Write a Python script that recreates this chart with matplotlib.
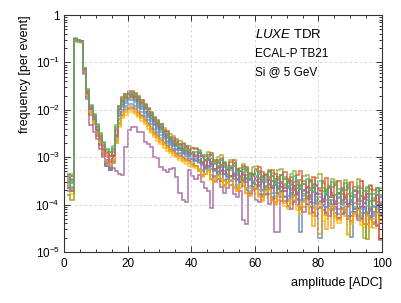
import numpy as np
import matplotlib
matplotlib.use("Agg")
import matplotlib.pyplot as plt
from matplotlib.ticker import FixedLocator, FixedFormatter, MultipleLocator

plt.rcParams['font.family'] = ['Liberation Sans', 'DejaVu Sans']
plt.rcParams['mathtext.fontset'] = 'custom'
plt.rcParams['mathtext.rm'] = 'Liberation Sans'
plt.rcParams['mathtext.it'] = 'Liberation Sans:italic'

# ---- data: log10(frequency) x 100, bins [k, k+1) for k = 1..99 ----
bin_edges = list(range(1, 101))

s_blue = [-372, -345, -52, -54, -57, -117, -168, -203, -225, -248,
          -268, -292, -318, -325, -305, -262, -203, -184, -175, -170,
          -170, -174, -181, -188, -196, -206, -214, -223, -231, -238,
          -252, -254, -265, -270, -272, -281, -284, -286, -292, -290,
          -295, -306, -312, -300, -304, -318, -324, -310, -316, -330,
          -335, -322, -318, -338, -345, -332, -326, -348, -355, -340,
          -332, -350, -362, -345, -340, -358, -368, -352, -346, -364,
          -376, -360, -352, -458, -370, -382, -365, -358, -375, -470,
          -388, -372, -362, -380, -394, -376, -368, -385, -398, -468,
          -380, -372, -392, -405, -385, -378, -440, -395, -385]
s_orange = [-358, -368, -52, -54, -57, -117, -166, -202, -223, -246,
            -266, -287, -305, -315, -300, -262, -222, -205, -197, -192,
            -192, -196, -202, -210, -218, -227, -236, -245, -252, -259,
            -268, -272, -281, -284, -291, -294, -300, -302, -306, -310,
            -318, -325, -330, -316, -322, -338, -345, -330, -336, -350,
            -355, -342, -338, -358, -365, -350, -346, -366, -372, -358,
            -352, -372, -380, -365, -360, -382, -390, -372, -366, -388,
            -398, -380, -374, -395, -405, -388, -382, -402, -410, -462,
            -395, -390, -410, -450, -400, -396, -418, -425, -405, -400,
            -420, -428, -410, -405, -425, -432, -415, -410, -430]
s_green = [-350, -335, -49, -52, -54, -112, -158, -192, -210, -232,
           -250, -270, -284, -290, -276, -232, -193, -176, -167, -162,
           -163, -166, -174, -180, -189, -198, -206, -217, -223, -231,
           -238, -247, -252, -256, -265, -266, -270, -277, -276, -281,
           -280, -292, -300, -295, -290, -302, -309, -300, -296, -312,
           -318, -306, -314, -328, -322, -315, -332, -336, -320, -318,
           -330, -345, -340, -326, -333, -352, -328, -324, -342, -348,
           -335, -330, -356, -362, -340, -338, -350, -366, -344, -336,
           -352, -372, -360, -345, -350, -368, -378, -348, -355, -375,
           -362, -345, -350, -470, -365, -358, -392, -372, -366]
s_red = [-360, -340, -50, -54, -55, -114, -163, -198, -218, -240,
         -258, -280, -296, -305, -295, -250, -198, -179, -171, -166,
         -166, -170, -177, -184, -192, -201, -211, -219, -226, -234,
         -245, -250, -262, -263, -270, -272, -280, -279, -285, -288,
         -300, -292, -296, -308, -302, -295, -314, -320, -306, -312,
         -326, -318, -312, -330, -340, -324, -322, -346, -338, -330,
         -344, -352, -336, -330, -350, -358, -342, -338, -360, -350,
         -342, -366, -358, -348, -370, -362, -350, -356, -378, -366,
         -354, -372, -385, -362, -358, -376, -392, -370, -362, -382,
         -396, -375, -366, -388, -372, -368, -402, -380, -475]
s_violet = [-335, -372, -52, -54, -56, -119, -170, -206, -228, -252,
            -270, -292, -310, -320, -308, -266, -210, -190, -181, -176,
            -176, -180, -187, -194, -202, -211, -220, -229, -236, -243,
            -255, -260, -268, -275, -277, -285, -286, -292, -296, -300,
            -308, -300, -312, -320, -306, -315, -328, -322, -316, -335,
            -340, -326, -333, -348, -352, -336, -344, -360, -350, -342,
            -358, -370, -352, -348, -366, -375, -360, -354, -372, -382,
            -365, -360, -380, -390, -372, -366, -385, -396, -378, -372,
            -392, -405, -385, -380, -398, -410, -390, -384, -402, -395,
            -385, -408, -418, -396, -390, -412, -425, -400, -395]
s_brown = [-365, -340, -54, -55, -58, -120, -172, -210, -230, -255,
           -275, -296, -315, -328, -312, -270, -228, -210, -201, -196,
           -196, -200, -206, -214, -222, -231, -240, -249, -256, -263,
           -270, -276, -285, -286, -294, -297, -302, -306, -308, -315,
           -318, -330, -338, -322, -328, -345, -340, -332, -350, -358,
           -345, -340, -362, -368, -352, -348, -370, -378, -362, -358,
           -378, -385, -368, -364, -388, -395, -378, -372, -392, -402,
           -385, -380, -400, -410, -392, -386, -406, -415, -398, -392,
           -412, -422, -404, -398, -418, -428, -410, -404, -425, -435,
           -415, -410, -430, -440, -420, -414, -436, -442, -425]
s_lightblue = [-350, -362, -52, -55, -57, -116, -164, -199, -220, -243,
               -262, -285, -306, -318, -296, -256, -220, -200, -192, -187,
               -187, -191, -197, -205, -213, -222, -231, -240, -247, -254,
               -262, -268, -275, -282, -284, -292, -293, -298, -302, -305,
               -308, -312, -328, -335, -320, -325, -342, -336, -330, -348,
               -355, -340, -345, -362, -350, -344, -366, -372, -356, -350,
               -370, -378, -362, -358, -376, -386, -368, -362, -382, -392,
               -375, -370, -390, -400, -382, -376, -395, -408, -390, -384,
               -402, -415, -396, -390, -410, -420, -400, -394, -462, -415,
               -405, -398, -425, -410, -404, -428, -415, -405, -420]
s_yellow = [-340, -378, -53, -55, -59, -120, -170, -207, -227, -250,
            -270, -292, -310, -320, -305, -270, -236, -218, -210, -205,
            -205, -209, -215, -223, -231, -240, -249, -258, -265, -272,
            -280, -286, -292, -298, -300, -306, -310, -315, -318, -320,
            -322, -328, -342, -336, -332, -348, -352, -340, -346, -362,
            -355, -348, -366, -372, -360, -356, -376, -382, -368, -364,
            -384, -392, -376, -370, -392, -400, -385, -380, -402, -410,
            -395, -390, -412, -420, -402, -398, -418, -425, -408, -402,
            -422, -430, -412, -408, -428, -438, -420, -415, -465, -440,
            -425, -420, -442, -448, -430, -425, -450, -440, -432]
s_magenta = [-365, -372, -55, -56, -58, -125, -178, -232, -246, -262,
             -282, -300, -318, -328, -322, -330, -335, -338, -278, -243,
             -237, -237, -246, -247, -268, -272, -278, -299, -301, -320,
             -327, -332, -325, -323, -341, -375, -390, -395, -328, -340,
             -345, -338, -352, -366, -372, -407, -350, -345, -362, -375,
             -365, -358, -378, -385, -372, -432, -440, -375, -368, -390,
             -395, -380, -378, -398, -385, -457, -458, -392, -385, -402,
             -410, -395, -388, -405, -415, -400, -395, -418, -425, -408,
             -400, -418, -425, -410, -405, -428, -420, -412, -430, -425,
             -415, -432, -428, -418, -440, -425, -420, -445, -432]
s_olive = [-380, -390, -53, -55, -58, -116, -162, -196, -215, -236,
           -256, -276, -292, -298, -290, -245, -206, -187, -178, -173,
           -173, -177, -184, -191, -199, -209, -217, -226, -234, -241,
           -250, -260, -262, -272, -276, -280, -288, -287, -294, -296,
           -302, -310, -298, -306, -318, -312, -305, -322, -330, -318,
           -326, -340, -335, -325, -342, -352, -338, -333, -355, -362,
           -345, -340, -360, -368, -350, -346, -365, -374, -356, -350,
           -370, -382, -365, -358, -378, -388, -370, -362, -385, -395,
           -372, -368, -390, -402, -380, -375, -396, -385, -378, -400,
           -410, -388, -382, -405, -472, -392, -386, -415, -398]
s_red2 = [-345, -352, -51, -53, -55, -111, -160, -195, -213, -236,
          -255, -275, -290, -300, -285, -240, -192, -174, -166, -161,
          -161, -165, -171, -180, -187, -197, -205, -215, -222, -229,
          -242, -245, -259, -260, -262, -273, -272, -276, -284, -281,
          -283, -288, -300, -305, -296, -292, -310, -306, -302, -315,
          -322, -310, -306, -325, -330, -318, -320, -336, -340, -324,
          -320, -332, -348, -342, -328, -335, -355, -338, -332, -345,
          -358, -352, -338, -330, -350, -362, -348, -342, -358, -370,
          -350, -344, -362, -375, -355, -350, -366, -380, -358, -352,
          -372, -365, -350, -388, -378, -360, -370, -365, -472]
s_blue2 = [-342, -355, -53, -55, -57, -118, -166, -201, -222, -245,
           -265, -288, -312, -322, -300, -258, -214, -194, -185, -180,
           -180, -184, -191, -198, -206, -215, -224, -233, -240, -247,
           -258, -265, -270, -276, -283, -285, -292, -294, -297, -303,
           -305, -298, -316, -325, -318, -310, -330, -338, -326, -320,
           -342, -350, -336, -330, -352, -360, -345, -340, -362, -368,
           -352, -348, -370, -378, -360, -355, -375, -385, -366, -360,
           -380, -392, -375, -368, -388, -398, -380, -374, -395, -405,
           -388, -380, -400, -412, -392, -386, -408, -418, -398, -390,
           -410, -425, -402, -396, -415, -428, -405, -400, -418]
s_orange2 = [-345, -350, -53, -56, -58, -119, -168, -204, -224, -248,
             -268, -290, -308, -316, -304, -265, -232, -214, -205, -200,
             -200, -204, -210, -218, -226, -235, -244, -253, -260, -267,
             -274, -280, -287, -292, -297, -301, -305, -308, -312, -318,
             -318, -326, -340, -335, -328, -345, -352, -338, -345, -360,
             -352, -348, -366, -372, -356, -352, -375, -380, -365, -360,
             -382, -390, -372, -368, -392, -398, -380, -375, -396, -405,
             -388, -382, -402, -412, -394, -390, -420, -445, -405, -398,
             -435, -452, -410, -404, -425, -432, -412, -408, -428, -436,
             -418, -412, -435, -440, -422, -448, -430, -418, -438]
s_pink = [-355, -348, -51, -53, -55, -115, -165, -200, -220, -243,
          -262, -283, -300, -310, -298, -255, -200, -181, -173, -168,
          -168, -172, -179, -186, -194, -203, -212, -222, -229, -236,
          -246, -256, -258, -266, -273, -274, -282, -281, -288, -291,
          -300, -292, -310, -318, -306, -315, -325, -312, -320, -336,
          -328, -322, -340, -346, -330, -338, -352, -344, -336, -348,
          -360, -342, -338, -356, -365, -350, -345, -362, -372, -355,
          -350, -368, -378, -360, -356, -374, -388, -366, -360, -378,
          -392, -375, -365, -385, -398, -378, -370, -388, -400, -382,
          -372, -392, -406, -385, -378, -410, -390, -380, -398]
s_teal = [-338, -365, -50, -52, -56, -113, -157, -190, -209, -229,
          -248, -268, -282, -288, -280, -236, -196, -179, -170, -165,
          -164, -169, -176, -183, -191, -201, -209, -218, -226, -232,
          -248, -250, -259, -268, -268, -279, -276, -284, -283, -290,
          -288, -284, -298, -306, -300, -296, -312, -318, -305, -310,
          -326, -320, -312, -334, -330, -320, -326, -345, -338, -326,
          -335, -350, -344, -332, -340, -358, -348, -338, -345, -362,
          -354, -340, -348, -368, -356, -345, -352, -372, -360, -350,
          -364, -380, -366, -352, -358, -384, -372, -355, -368, -390,
          -370, -360, -382, -372, -362, -405, -378, -366, -380]

series = [s_blue, s_orange, s_green, s_red, s_violet, s_brown, s_lightblue,
          s_yellow, s_magenta, s_olive, s_red2, s_blue2, s_orange2, s_pink, s_teal]
colors = ['#5E81B5', '#E19C24', '#8FB032', '#EB6235', '#8778B3', '#C56E1A',
          '#5D9EC7', '#FFBF00', '#A5609D', '#929600', '#E95536', '#6685D9',
          '#F89F13', '#BC5B80', '#47B66D']

y_ticks = [1e-5, 1e-4, 1e-3, 1e-2, 1e-1, 1]
y_ticklabels = ['10$^{-5}$', '10$^{-4}$', '10$^{-3}$', '10$^{-2}$', '10$^{-1}$', '1']
x_ticks = [0, 20, 40, 60, 80, 100]

fig = plt.figure(figsize=(4.02, 3.03), dpi=100)
ax = fig.add_axes([64/402, 51/303, 318/402, 237/303])

for vals, c in zip(series, colors):
    v = 10 ** (np.array(vals, dtype=float) / 100.0)
    ax.stairs(v, bin_edges, baseline=None, color=c, lw=1.15, alpha=0.85)

ax.set_yscale('log')
ax.set_xlim(0, 100)
ax.set_ylim(1e-5, 1)

ax.yaxis.set_major_locator(FixedLocator(y_ticks))
ax.yaxis.set_major_formatter(FixedFormatter(y_ticklabels))
ax.xaxis.set_major_locator(FixedLocator(x_ticks))
ax.xaxis.set_minor_locator(MultipleLocator(5))

ax.tick_params(which='both', direction='in', top=True, right=True,
               colors='#333333', labelcolor='black', labelsize=8.5, width=0.7)
ax.tick_params(which='major', length=4)
ax.tick_params(which='minor', length=2)
ax.tick_params(axis='x', pad=4)
ax.tick_params(axis='y', pad=3)

for sp in ax.spines.values():
    sp.set_color('#333333')
    sp.set_linewidth(0.8)

ax.grid(True, which='major', color='#d0d0d0', lw=0.6, ls=(0, (3, 3)))

ax.set_xlabel('amplitude [ADC]', fontsize=9, loc='right')
ax.xaxis.set_label_coords(1.0, -0.105)
ax.set_ylabel('frequency [per event]', fontsize=9, loc='top')
ax.yaxis.set_label_coords(-0.105, 1.0)

ax.text(0.60, 0.903, r'$\mathit{LUXE}$ TDR', transform=ax.transAxes, fontsize=9.5, va='baseline')
ax.text(0.60, 0.823, 'ECAL-P TB21', transform=ax.transAxes, fontsize=8.5, va='baseline')
ax.text(0.60, 0.745, 'Si @ 5 GeV', transform=ax.transAxes, fontsize=8.5, va='baseline')

fig.savefig('out.png', dpi=100)
